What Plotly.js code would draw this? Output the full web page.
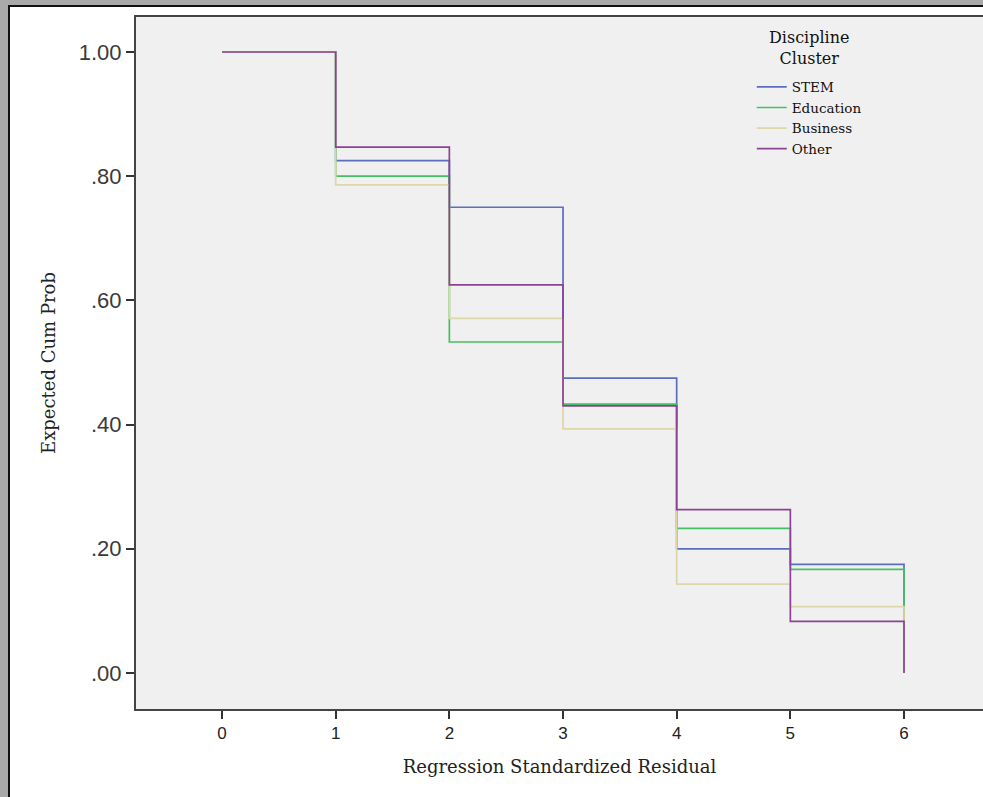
<!DOCTYPE html>
<html>
<head>
<meta charset="utf-8">
<script src="https://cdn.plot.ly/plotly-3.0.1.min.js"></script>
<style>
  html, body { margin: 0; padding: 0; background: #a9a9a9; overflow: hidden; }
  #frame { position: absolute; left: 8px; top: 5px; width: 990px; height: 800px;
           background: #ffffff; border-left: 2px solid #111; border-top: 2px solid #111; }
  #chart { position: absolute; left: 0; top: 0; width: 983px; height: 797px; }
</style>
</head>
<body>
<div id="frame"></div>
<div id="chart"></div>
<script>
// Step positions (regression standardized residual)
const xSteps = [0, 1, 2, 3, 4, 5, 6];
// Expected cumulative probability per discipline cluster (value held after each step)
const stemVals      = [1.00, 0.825, 0.750, 0.475, 0.200, 0.175, 0.00];
const educationVals = [1.00, 0.800, 0.533, 0.433, 0.233, 0.167, 0.00];
const businessVals  = [1.00, 0.786, 0.571, 0.393, 0.143, 0.107, 0.00];
const otherVals     = [1.00, 0.847, 0.625, 0.430, 0.263, 0.083, 0.00];

const seriesNames  = ["STEM", "Education", "Business", "Other"];
const seriesValues = [stemVals, educationVals, businessVals, otherVals];
const seriesColors = ["#5a6ec0", "#45c062", "#dcd6a8", "#8c4292"];

const legendTitle = "Discipline<br>Cluster";

const yTickVals = [0, 0.2, 0.4, 0.6, 0.8, 1.0];
const yTickText = [".00", ".20", ".40", ".60", ".80", "1.00"];
const xTickVals = [0, 1, 2, 3, 4, 5, 6];
const xTickText = ["0", "1", "2", "3", "4", "5", "6"];

const traces = seriesNames.map((name, i) => ({
  type: "scatter",
  mode: "lines",
  name: name,
  x: xSteps,
  y: seriesValues[i],
  line: { shape: "hv", color: seriesColors[i], width: 1.7 },
  hoverinfo: "x+y+name"
}));

const layout = {
  width: 983,
  height: 797,
  margin: { l: 136, r: 0, t: 17, b: 88, pad: 0 },
  paper_bgcolor: "rgba(0,0,0,0)",
  plot_bgcolor: "#f0f0f0",
  showlegend: true,
  legend: {
    x: 0.727, y: 0.921, xanchor: "left", yanchor: "top",
    bgcolor: "rgba(0,0,0,0)",
    font: { family: "DejaVu Serif", size: 13.5, color: "#111" },
    tracegroupgap: 0,
    itemwidth: 30
  },
  annotations: [{
    xref: "paper", yref: "paper", x: 0.7946, y: 0.955,
    xanchor: "center", yanchor: "middle", align: "center",
    text: legendTitle, showarrow: false,
    font: { family: "DejaVu Serif", size: 16, color: "#111" }
  }],
  xaxis: {
    range: [-0.757, 6.695],
    tickmode: "array", tickvals: xTickVals, ticktext: xTickText,
    ticks: "outside", ticklen: 8, tickwidth: 2, tickcolor: "#333",
    showgrid: false, zeroline: false,
    showline: true, linecolor: "#444", linewidth: 2, mirror: true,
    tickfont: { family: "Liberation Sans", size: 17, color: "#222" },
    title: { text: "Regression Standardized Residual", standoff: 18,
             font: { family: "DejaVu Serif", size: 18, color: "#222" } },
    automargin: false
  },
  yaxis: {
    range: [-0.058, 1.0564],
    tickmode: "array", tickvals: yTickVals, ticktext: yTickText,
    ticks: "outside", ticklen: 8, tickwidth: 2, tickcolor: "#333",
    showgrid: false, zeroline: false,
    showline: true, linecolor: "#444", linewidth: 2, mirror: false,
    tickfont: { family: "Liberation Sans", size: 22, color: "#3a3a3a" },
    title: { text: "Expected Cum Prob", standoff: 18,
             font: { family: "DejaVu Serif", size: 18, color: "#222" } },
    automargin: false
  }
};

Plotly.newPlot("chart", traces, layout, { displayModeBar: false, staticPlot: true });
</script>
</body>
</html>
